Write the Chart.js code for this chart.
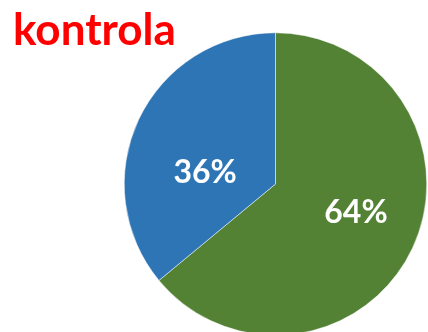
<!DOCTYPE html>
<html lang="cs">
<head>
    <meta charset="UTF-8">
    <title>kontrola</title>
    <script src="https://cdn.jsdelivr.net/npm/chart.js@4.4.1/dist/chart.umd.min.js"></script>
    <style>
        html, body { margin: 0; padding: 0; background: #fff; overflow: hidden; }
        .chart-box { position: relative; width: 428px; height: 340px; }
    </style>
</head>
<body>
    <div class="chart-box">
        <canvas id="pie"></canvas>
    </div>
    <script>
        // chart data
        const titleText = 'kontrola';
        const categories = ['A', 'B'];
        const shares = [64, 36];
        const sliceColors = ['#548235', '#2E75B6'];

        // title drawn in the top-left corner
        const cornerTitle = {
            id: 'cornerTitle',
            afterDraw(chart, args, opts) {
                const ctx = chart.ctx;
                ctx.save();
                ctx.font = 'bold 44px Lato';
                ctx.fillStyle = '#FF0000';
                ctx.textBaseline = 'alphabetic';
                ctx.textAlign = 'left';
                ctx.fillText(opts.text, 13, 45);
                ctx.restore();
            }
        };

        // percentage labels inside the slices
        const sliceLabels = {
            id: 'sliceLabels',
            afterDatasetsDraw(chart, args, opts) {
                const ctx = chart.ctx;
                const meta = chart.getDatasetMeta(0);
                ctx.save();
                ctx.font = 'bold 32px Lato';
                ctx.fillStyle = '#fff';
                ctx.textAlign = 'center';
                ctx.textBaseline = 'middle';
                meta.data.forEach((arc, i) => {
                    const p = arc.tooltipPosition();
                    const nudge = opts.nudge[i] || [0, 0];
                    ctx.fillText(shares[i] + '%', p.x + nudge[0], p.y + nudge[1]);
                });
                ctx.restore();
            }
        };

        new Chart(document.getElementById('pie'), {
            type: 'pie',
            data: {
                labels: categories,
                datasets: [{
                    data: shares,
                    backgroundColor: sliceColors,
                    borderColor: '#ffffff',
                    borderWidth: 0.5
                }]
            },
            options: {
                responsive: true,
                maintainAspectRatio: false,
                animation: false,
                layout: { padding: { left: 124, right: 1, top: 32, bottom: 4 } },
                plugins: {
                    legend: { display: false },
                    tooltip: { enabled: false },
                    title: { display: false },
                    cornerTitle: { text: titleText },
                    sliceLabels: { nudge: [[12, -4], [-2, 21]] }
                }
            },
            plugins: [cornerTitle, sliceLabels]
        });
    </script>
</body>
</html>
